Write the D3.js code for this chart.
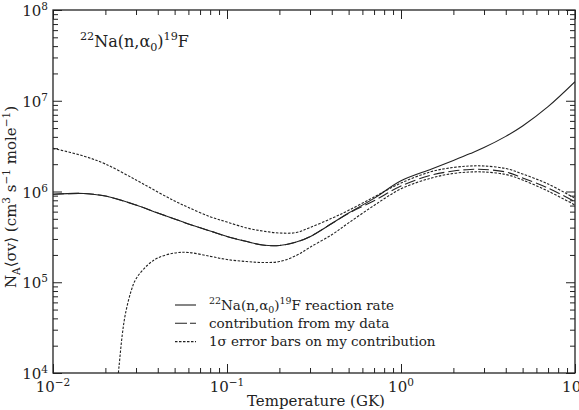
<!DOCTYPE html>
<html>
<head>
<meta charset="utf-8">
<script src="https://cdn.jsdelivr.net/npm/d3@7"></script>
<style>
  body { margin: 0; background: #fff; }
  text { font-family: "DejaVu Serif", serif; fill: #222; }
</style>
</head>
<body>
<svg id="chart" width="579" height="410"></svg>
<script>
// temperature grid (GK) for the rate curves
const temps = [0.01, 0.015, 0.02, 0.03, 0.04, 0.05, 0.06, 0.08, 0.1, 0.13, 0.16, 0.2, 0.25,
    0.3, 0.4, 0.5, 0.7, 1.0, 1.5, 2, 2.5, 3, 4, 5, 7, 10];
// total 22Na(n,a0)19F reaction rate
const rate = [9.31e5, 9.51e5, 8.91e5, 7.10e5, 5.80e5, 4.98e5, 4.39e5, 3.67e5, 3.19e5, 2.81e5,
    2.57e5, 2.54e5, 2.77e5, 3.18e5, 4.44e5, 5.80e5, 8.4e5, 1.31e6, 1.77e6, 2.20e6, 2.62e6,
    3.05e6, 4.05e6, 5.27e6, 8.6e6, 1.62e7];
// contribution from my data
const contribution = [9.31e5, 9.51e5, 8.91e5, 7.10e5, 5.80e5, 4.98e5, 4.39e5, 3.67e5, 3.19e5,
    2.81e5, 2.57e5, 2.54e5, 2.77e5, 3.18e5, 4.44e5, 5.75e5, 7.9e5, 1.15e6, 1.52e6, 1.68e6,
    1.75e6, 1.75e6, 1.64e6, 1.41e6, 1.09e6, 7.72e5];
// upper 1 sigma
const upper = [2.99e6, 2.46e6, 2.01e6, 1.34e6, 9.87e5, 7.86e5, 6.67e5, 5.27e5, 4.61e5, 3.96e5,
    3.67e5, 3.49e5, 3.53e5, 4.01e5, 5.07e5, 6.2e5, 8.7e5, 1.24e6, 1.66e6, 1.84e6, 1.91e6,
    1.91e6, 1.79e6, 1.56e6, 1.21e6, 8.41e5];
// lower 1 sigma (drops to zero near 0.023 GK)
const lowerTemps = [0.0234, 0.024, 0.025, 0.026, 0.028, 0.03, 0.035, 0.04, 0.05, 0.06, 0.08,
    0.1, 0.13, 0.16, 0.2, 0.25, 0.3, 0.4, 0.5, 0.7, 1.0, 1.5, 2, 2.5, 3, 4, 5, 7, 10];
const lower = [7.4e3, 1.22e4, 2.62e4, 4.36e4, 7.81e4, 1.09e5, 1.55e5, 1.85e5, 2.10e5, 2.13e5,
    1.93e5, 1.78e5, 1.69e5, 1.65e5, 1.69e5, 1.97e5, 2.43e5, 3.34e5, 4.51e5, 7.02e5, 1.07e6,
    1.41e6, 1.58e6, 1.64e6, 1.64e6, 1.54e6, 1.34e6, 1.01e6, 7.10e5];

const xTicks = [1e-2, 1e-1, 1e0, 1e1];
const xTickExp = ["\u22122", "\u22121", "0", "1"];
const yTicks = [1e4, 1e5, 1e6, 1e7, 1e8];
const yTickExp = ["4", "5", "6", "7", "8"];

const svg = d3.select("svg#chart");
const margin = { top: 10, left: 53, right: 4, bottom: 37 };
const width = svg.attr("width") - margin.left - margin.right;
const height = svg.attr("height") - margin.top - margin.bottom;
const ink = "#222";

const xScale = d3.scaleLog().domain([0.01, 10]).range([0, width]);
const yScale = d3.scaleLog().domain([1e4, 1e8]).range([height, 0]);

let plot = svg.append("g").attr("transform", `translate(${margin.left},${margin.top})`);

// minor / major tick values
const minorX = [];
[0.01, 0.1, 1].forEach((d) => { for (let k = 2; k <= 9; k++) minorX.push(d * k); });
const minorY = [];
[1e4, 1e5, 1e6, 1e7].forEach((d) => { for (let k = 2; k <= 9; k++) minorY.push(d * k); });

function tickAxis(axis, values, size, transform) {
    plot.append("g")
        .attr("transform", transform)
        .style("color", ink)
        .call(axis.tickValues(values).tickSize(size).tickFormat(""))
        .call((g) => g.select(".domain").remove())
        .call((g) => g.selectAll("line").attr("stroke-width", 1));
}
tickAxis(d3.axisBottom(xScale), minorX, -5, `translate(0,${height})`);
tickAxis(d3.axisBottom(xScale), xTicks, -9, `translate(0,${height})`);
tickAxis(d3.axisTop(xScale), minorX, -5, "translate(0,0)");
tickAxis(d3.axisTop(xScale), xTicks, -9, "translate(0,0)");
tickAxis(d3.axisLeft(yScale), minorY, -5, "translate(0,0)");
tickAxis(d3.axisLeft(yScale), yTicks, -9, "translate(0,0)");
tickAxis(d3.axisRight(yScale), minorY, -5, `translate(${width},0)`);
tickAxis(d3.axisRight(yScale), yTicks, -9, `translate(${width},0)`);

// frame
plot.append("rect")
    .attr("width", width)
    .attr("height", height)
    .attr("fill", "none")
    .attr("stroke", ink)
    .attr("stroke-width", 1.3);

// text helper: parts are [text, "sup"|"sub"|undefined]
function richText(sel, parts, size) {
    parts.forEach(([t, kind]) => {
        let ts = sel.append("tspan").text(t);
        if (kind === "sup") ts.style("font-size", size * 0.7 + "px").attr("baseline-shift", size * 0.42);
        if (kind === "sub") ts.style("font-size", size * 0.7 + "px").attr("baseline-shift", -size * 0.25);
    });
    return sel;
}

// tick labels
xTicks.forEach((v, i) => {
    richText(plot.append("text")
        .attr("x", xScale(v))
        .attr("y", height + 19)
        .attr("text-anchor", "middle")
        .style("font-size", "15px"), [["10"], [xTickExp[i], "sup"]], 15);
});
yTicks.forEach((v, i) => {
    richText(plot.append("text")
        .attr("x", -5)
        .attr("y", yScale(v) + 6)
        .attr("text-anchor", "end")
        .style("font-size", "15px"), [["10"], [yTickExp[i], "sup"]], 15);
});

// axis titles
plot.append("text")
    .attr("x", width / 2 + 2)
    .attr("y", height + 33)
    .attr("text-anchor", "middle")
    .style("font-size", "15px")
    .text("Temperature (GK)");
richText(svg.append("text")
    .attr("transform", `translate(15.5,${margin.top + 187}) rotate(-90)`)
    .attr("text-anchor", "middle")
    .style("font-size", "15px"),
    [["N"], ["A", "sub"], ["\u27E8\u03C3v\u27E9 (cm"], ["3", "sup"], [" s"], ["\u22121", "sup"],
     [" mole"], ["\u22121", "sup"], [")"]], 15);

// reaction label
richText(plot.append("text")
    .attr("x", 27)
    .attr("y", 37)
    .style("font-size", "16px"),
    [["22", "sup"], ["Na(n,\u03B1"], ["0", "sub"], [")"], ["19", "sup"], ["F"]], 16);

// curves
plot.append("clipPath").attr("id", "clip")
    .append("rect").attr("width", width).attr("height", height);
let curves = plot.append("g").attr("clip-path", "url(#clip)");
const line = d3.line()
    .x((d) => xScale(d[0]))
    .y((d) => yScale(d[1]))
    .curve(d3.curveCatmullRom.alpha(0.5));

const series = [
    { t: temps, v: rate, dash: null },
    { t: temps, v: contribution, dash: "11,4" },
    { t: temps, v: upper, dash: "2.5,1.5" },
    { t: lowerTemps, v: lower, dash: "2.5,1.5" },
];
series.forEach((s) => {
    curves.append("path")
        .datum(d3.zip(s.t, s.v))
        .attr("d", line)
        .attr("fill", "none")
        .attr("stroke", ink)
        .attr("stroke-width", 1.1)
        .attr("stroke-dasharray", s.dash);
});

// legend
const legendItems = [
    { dash: null, parts: [["22", "sup"], ["Na(n,\u03B1"], ["0", "sub"], [")"], ["19", "sup"], ["F reaction rate"]] },
    { dash: "12,3", parts: [["contribution from my data"]] },
    { dash: "2.5,1.5", parts: [["1\u03C3 error bars on my contribution"]] },
];
let legend = plot.append("g").attr("transform", "translate(122,295)");
legendItems.forEach((d, i) => {
    let y = i * 18.3;
    legend.append("line")
        .attr("x1", 0).attr("x2", 21)
        .attr("y1", y).attr("y2", y)
        .attr("stroke", ink)
        .attr("stroke-width", 1.1)
        .attr("stroke-dasharray", d.dash);
    richText(legend.append("text")
        .attr("x", 34)
        .attr("y", y + 4.5)
        .style("font-size", "13.5px"), d.parts, 13.5);
});
</script>
</body>
</html>
